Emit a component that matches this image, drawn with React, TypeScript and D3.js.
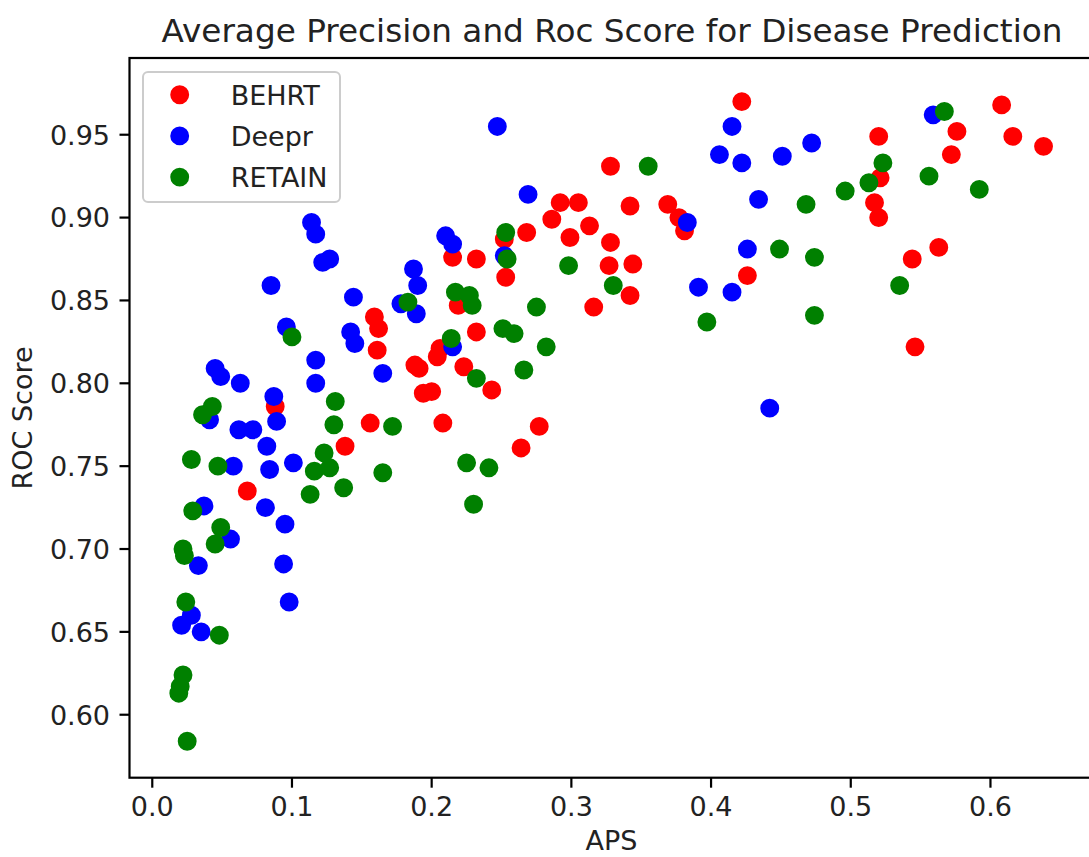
import React, { useEffect, useRef } from 'react';
import * as d3 from 'd3';

// APS / ROC values, one pair of arrays per model
const behrtAps = [0.422, 0.328, 0.292, 0.305, 0.342, 0.369, 0.377, 0.381, 0.286, 0.313, 0.268, 0.299, 0.328, 0.252,
  0.253, 0.215, 0.232, 0.327, 0.344, 0.342, 0.426, 0.608, 0.576, 0.616, 0.638, 0.520, 0.572, 0.521, 0.517, 0.520,
  0.563, 0.544, 0.546, 0.159, 0.162, 0.161, 0.188, 0.191, 0.204, 0.206, 0.194, 0.200, 0.088, 0.156, 0.208, 0.138,
  0.068, 0.219, 0.316, 0.232, 0.223, 0.243, 0.277, 0.264];
const behrtRoc = [0.970, 0.931, 0.909, 0.909, 0.907, 0.908, 0.900, 0.892, 0.899, 0.895, 0.891, 0.888, 0.885, 0.887,
  0.864, 0.876, 0.875, 0.871, 0.872, 0.853, 0.865, 0.968, 0.952, 0.949, 0.943, 0.949, 0.938, 0.924, 0.909, 0.900,
  0.882, 0.875, 0.822, 0.840, 0.833, 0.820, 0.811, 0.809, 0.816, 0.821, 0.794, 0.795, 0.786, 0.776, 0.776, 0.762,
  0.735, 0.847, 0.846, 0.831, 0.810, 0.796, 0.774, 0.761];

const deeprAps = [0.114, 0.117, 0.122, 0.127, 0.085, 0.187, 0.190, 0.210, 0.215, 0.144, 0.247, 0.415, 0.406, 0.422,
  0.434, 0.269, 0.383, 0.252, 0.426, 0.391, 0.415, 0.559, 0.472, 0.451, 0.442, 0.178, 0.189, 0.096, 0.142, 0.145,
  0.117, 0.117, 0.165, 0.045, 0.049, 0.063, 0.087, 0.089, 0.041, 0.062, 0.072, 0.082, 0.058, 0.084, 0.101, 0.037,
  0.081, 0.095, 0.056, 0.033, 0.094, 0.098, 0.028, 0.021, 0.035, 0.215];
const deeprRoc = [0.897, 0.890, 0.873, 0.875, 0.859, 0.869, 0.859, 0.889, 0.884, 0.852, 0.955, 0.955, 0.938, 0.933,
  0.911, 0.914, 0.897, 0.877, 0.881, 0.858, 0.855, 0.962, 0.945, 0.937, 0.785, 0.848, 0.842, 0.834, 0.831, 0.824,
  0.814, 0.800, 0.806, 0.809, 0.804, 0.800, 0.792, 0.777, 0.778, 0.772, 0.772, 0.762, 0.750, 0.748, 0.752, 0.726,
  0.725, 0.715, 0.706, 0.690, 0.691, 0.668, 0.660, 0.654, 0.650, 0.822];

const retainAps = [0.355, 0.253, 0.254, 0.298, 0.330, 0.217, 0.227, 0.229, 0.275, 0.567, 0.523, 0.513, 0.556, 0.496,
  0.592, 0.468, 0.449, 0.474, 0.535, 0.397, 0.474, 0.183, 0.100, 0.214, 0.251, 0.259, 0.282, 0.232, 0.266, 0.225,
  0.241, 0.230, 0.043, 0.036, 0.131, 0.130, 0.172, 0.028, 0.047, 0.123, 0.127, 0.116, 0.165, 0.137, 0.113, 0.029,
  0.049, 0.045, 0.022, 0.023, 0.024, 0.048, 0.022, 0.020, 0.019, 0.025];
const retainRoc = [0.931, 0.891, 0.875, 0.871, 0.859, 0.855, 0.853, 0.847, 0.846, 0.964, 0.933, 0.921, 0.925, 0.916,
  0.917, 0.908, 0.881, 0.876, 0.859, 0.837, 0.841, 0.849, 0.828, 0.827, 0.833, 0.830, 0.822, 0.803, 0.808, 0.752,
  0.749, 0.727, 0.786, 0.781, 0.789, 0.775, 0.774, 0.754, 0.750, 0.758, 0.749, 0.747, 0.746, 0.737, 0.733, 0.723,
  0.713, 0.703, 0.700, 0.696, 0.668, 0.648, 0.624, 0.617, 0.613, 0.584];

const xTicks = [0.0, 0.1, 0.2, 0.3, 0.4, 0.5, 0.6];
const yTicks = [0.60, 0.65, 0.70, 0.75, 0.80, 0.85, 0.90, 0.95];

const seriesNames = ['BEHRT', 'Deepr', 'RETAIN'];
const seriesColors = ['red', 'blue', 'green'];

const width = 1089;
const height = 857;
const margin = { top: 58, right: -4, bottom: 79.3, left: 129.5 };
const font = 'DejaVu Sans, sans-serif';
const fs = 27;

const ScatterChart = () => {
  const ref = useRef<SVGSVGElement | null>(null);

  useEffect(() => {
    drawChart();
  }, []);

  function drawChart() {
    const svg = d3.select(ref.current);
    svg.selectAll('*').remove();

    const x = d3.scaleLinear().domain([-0.0163, 0.6734]).range([margin.left, width - margin.right]);
    const y = d3.scaleLinear().domain([0.562, 0.9963]).range([height - margin.bottom, margin.top]);

    const series = [
      { aps: behrtAps, roc: behrtRoc },
      { aps: deeprAps, roc: deeprRoc },
      { aps: retainAps, roc: retainRoc },
    ];

    svg.append('rect').attr('width', width).attr('height', height).attr('fill', 'white');

    series.forEach((s, i) => {
      svg
        .append('g')
        .selectAll('circle')
        .data(s.aps.map((a, j) => [a, s.roc[j]]))
        .enter()
        .append('circle')
        .attr('cx', (d) => x(d[0]))
        .attr('cy', (d) => y(d[1]))
        .attr('r', 8.1)
        .attr('fill', seriesColors[i])
        .attr('stroke', seriesColors[i])
        .attr('stroke-width', 2.7);
    });

    // frame
    const x0 = x.range()[0], x1 = x.range()[1];
    const y0 = y.range()[0], y1 = y.range()[1];
    svg
      .append('rect')
      .attr('x', x0)
      .attr('y', y1)
      .attr('width', x1 - x0)
      .attr('height', y0 - y1)
      .attr('fill', 'none')
      .attr('stroke', 'black')
      .attr('stroke-width', 2.2);

    // x axis
    const gx = svg.append('g');
    xTicks.forEach((t) => {
      gx.append('line')
        .attr('x1', x(t)).attr('x2', x(t))
        .attr('y1', y0).attr('y2', y0 + 10)
        .attr('stroke', 'black').attr('stroke-width', 2.2);
      gx.append('text')
        .attr('x', x(t))
        .attr('y', 816)
        .attr('text-anchor', 'middle')
        .style('font-family', font)
        .style('font-size', fs + 'px')
        .style('fill', '#222')
        .text(d3.format('.1f')(t));
    });

    // y axis
    const gy = svg.append('g');
    yTicks.forEach((t) => {
      gy.append('line')
        .attr('x1', x0 - 10).attr('x2', x0)
        .attr('y1', y(t)).attr('y2', y(t))
        .attr('stroke', 'black').attr('stroke-width', 2.2);
      gy.append('text')
        .attr('x', 110)
        .attr('y', y(t) + 0.364 * fs)
        .attr('text-anchor', 'end')
        .style('font-family', font)
        .style('font-size', fs + 'px')
        .style('fill', '#222')
        .text(d3.format('.2f')(t));
    });

    svg.append('text')
      .attr('x', 612)
      .attr('y', 42)
      .attr('text-anchor', 'middle')
      .style('font-family', font)
      .style('font-size', '32.7px')
      .style('fill', '#222')
      .text('Average Precision and Roc Score for Disease Prediction');

    svg.append('text')
      .attr('x', 611.5)
      .attr('y', 850)
      .attr('text-anchor', 'middle')
      .style('font-family', font)
      .style('font-size', fs + 'px')
      .style('fill', '#222')
      .text('APS');

    svg.append('text')
      .attr('transform', `translate(32, 418) rotate(-90)`)
      .attr('text-anchor', 'middle')
      .style('font-family', font)
      .style('font-size', fs + 'px')
      .style('fill', '#222')
      .text('ROC Score');

    // legend
    const lg = svg.append('g');
    lg.append('rect')
      .attr('x', 143).attr('y', 72)
      .attr('width', 197).attr('height', 130)
      .attr('rx', 5)
      .attr('fill', 'white').attr('fill-opacity', 0.8)
      .attr('stroke', '#cccccc').attr('stroke-width', 2);
    seriesNames.forEach((name, i) => {
      const cy = 94.7 + i * 41.2;
      lg.append('circle')
        .attr('cx', 179.7).attr('cy', cy).attr('r', 8.1)
        .attr('fill', seriesColors[i]).attr('stroke', seriesColors[i]).attr('stroke-width', 2.7);
      lg.append('text')
        .attr('x', 230.7).attr('y', cy + 0.364 * fs)
        .style('font-family', font)
        .style('font-size', fs + 'px')
        .style('fill', '#222')
        .text(name);
    });
  }

  return (
    <svg
      ref={ref}
      width={width}
      height={height}
      style={{ position: 'absolute', left: 0, top: 0, overflow: 'hidden' }}
    />
  );
};

export default function App() {
  return <ScatterChart />;
}
